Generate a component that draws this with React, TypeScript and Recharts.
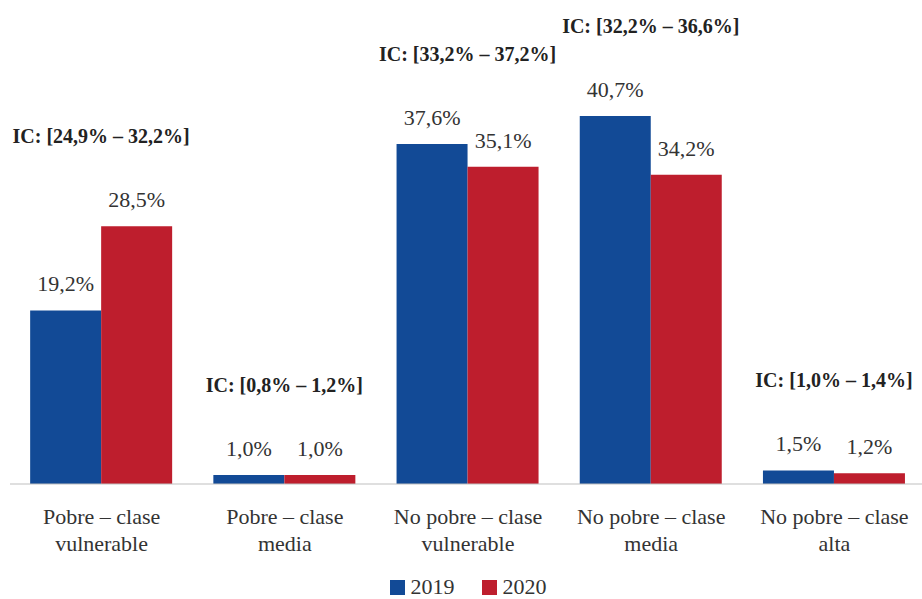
import React from "react";
import { BarChart, Bar, XAxis, YAxis, LabelList, Legend } from "recharts";

const categories = [
  "Pobre – clase vulnerable",
  "Pobre – clase media",
  "No pobre – clase vulnerable",
  "No pobre – clase media",
  "No pobre – clase alta",
];
const values2019 = [19.2, 1.0, 37.6, 40.7, 1.5];
const values2020 = [28.5, 1.0, 35.1, 34.2, 1.2];
const icLabels = [
  "IC: [24,9% – 32,2%]",
  "IC: [0,8% – 1,2%]",
  "IC: [33,2% – 37,2%]",
  "IC: [32,2% – 36,6%]",
  "IC: [1,0% – 1,4%]",
];

const BLUE = "#124A96";
const RED = "#BE1E2D";
const TEXT = "#333333";
const FONT = '"Liberation Serif", "Times New Roman", serif';

const data = categories.map((name, i) => ({
  name,
  y2019: values2019[i],
  y2020: values2020[i],
  ic: icLabels[i],
}));

const fmt = (v: number) => v.toFixed(1).replace(".", ",") + "%";

const CategoryTick = (props: any) => {
  const { x, y, payload } = props;
  const m = String(payload.value).match(/^(.*clase) (.*)$/);
  const lines = m ? [m[1], m[2]] : [payload.value];
  return (
    <text
      x={x}
      y={y}
      textAnchor="middle"
      fill={TEXT}
      fontFamily={FONT}
      fontSize={22}
    >
      {lines.map((l: string, k: number) => (
        <tspan key={k} x={x} dy={k === 0 ? 32 : 27}>
          {l}
        </tspan>
      ))}
    </text>
  );
};

// IC label sits above the taller of the two bars, centred on the category
const IcLabel = (props: any) => {
  const { x, y, height, value, index } = props;
  const base = y + height;
  const perUnit = height / value;
  const top = base - Math.max(values2019[index], values2020[index]) * perUnit;
  return (
    <text
      x={x}
      y={top - 83}
      textAnchor="middle"
      fill="#222"
      fontFamily={FONT}
      fontSize={20}
      fontWeight="bold"
    >
      {icLabels[index]}
    </text>
  );
};

const LegendContent = () => (
  <div
    style={{
      display: "flex",
      justifyContent: "center",
      gap: 27,
      fontFamily: FONT,
      fontSize: 22,
      color: TEXT,
      lineHeight: "22px",
      height: 22,
    }}
  >
    {[
      { c: BLUE, t: "2019" },
      { c: RED, t: "2020" },
    ].map((it) => (
      <div key={it.t} style={{ display: "flex", alignItems: "center" }}>
        <div style={{ width: 15, height: 15, background: it.c, marginRight: 6 }} />
        <span>{it.t}</span>
      </div>
    ))}
  </div>
);

export default function App() {
  return (
    <div style={{ position: "absolute", left: 0, top: 0, width: 922, height: 599, overflow: "hidden" }}>
      <BarChart
        width={922}
        height={599}
        data={data}
        margin={{ top: 32, right: -4, left: 10, bottom: 1 }}
        barGap={0}
        barCategoryGap="11%"
      >
        <XAxis
          dataKey="name"
          interval={0}
          tickLine={false}
          axisLine={{ stroke: "#bfbfbf" }}
          height={92}
          tick={<CategoryTick />}
        />
        <YAxis hide domain={[0, 50]} />
        <Legend verticalAlign="bottom" height={22} content={<LegendContent />} />
        <Bar dataKey="y2019" fill={BLUE} isAnimationActive={false}>
          <LabelList
            dataKey="y2019"
            position="top"
            offset={19}
            formatter={(v: any) => fmt(Number(v))}
            fill={TEXT}
            fontFamily={FONT}
            fontSize={22}
          />
        </Bar>
        <Bar dataKey="y2020" fill={RED} isAnimationActive={false}>
          <LabelList
            dataKey="y2020"
            position="top"
            offset={19}
            formatter={(v: any) => fmt(Number(v))}
            fill={TEXT}
            fontFamily={FONT}
            fontSize={22}
          />
          <LabelList dataKey="y2020" content={<IcLabel />} />
        </Bar>
      </BarChart>
    </div>
  );
}
